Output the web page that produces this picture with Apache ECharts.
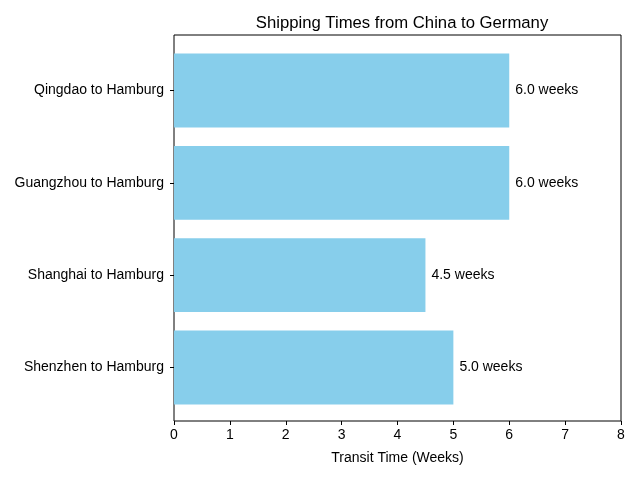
<!DOCTYPE html>
<html>
<head>
<meta charset="utf-8">
<script src="https://cdn.jsdelivr.net/npm/echarts@6/dist/echarts.min.js"></script>
<style>html,body{margin:0;padding:0;background:#fff}#c{width:640px;height:480px}</style>
</head>
<body>
<div id="c"></div>
<script>
const routes = ['Shenzhen to Hamburg', 'Shanghai to Hamburg', 'Guangzhou to Hamburg', 'Qingdao to Hamburg'];
const weeks = [5.0, 4.5, 6.0, 6.0];
const xTicks = [0, 1, 2, 3, 4, 5, 6, 7, 8];

const font = 'Liberation Sans, Arial, sans-serif';
const chart = echarts.init(document.getElementById('c'), null, {renderer: 'canvas'});
chart.setOption({
  animation: false,
  backgroundColor: '#fff',
  title: {
    text: 'Shipping Times from China to Germany',
    left: 397, top: 10, textAlign: 'center',
    textStyle: {fontFamily: font, fontSize: 16.7, fontWeight: 'normal', color: '#000'}
  },
  grid: [
    {left: 174, right: 19, top: 44.3, bottom: 66.3},
    {left: 174, right: 19, top: 35, bottom: 59, show: true, borderColor: '#000', borderWidth: 1, backgroundColor: 'transparent'}
  ],
  xAxis: [
    {gridIndex: 0, type: 'value', min: xTicks[0], max: xTicks[xTicks.length - 1], show: false},
    {gridIndex: 1, type: 'value', min: xTicks[0], max: xTicks[xTicks.length - 1], interval: 1,
     name: 'Transit Time (Weeks)', nameLocation: 'middle', nameGap: 30,
     nameTextStyle: {fontFamily: font, fontSize: 14, color: '#000'},
     axisLine: {show: false}, splitLine: {show: false},
     axisTick: {show: true, length: 4, lineStyle: {color: '#000'}},
     axisLabel: {fontFamily: font, fontSize: 14, color: '#000', margin: 7}}
  ],
  yAxis: [
    {gridIndex: 0, type: 'category', data: routes,
     axisLine: {show: false},
     axisTick: {show: true, alignWithLabel: true, length: 4, lineStyle: {color: '#000'}},
     axisLabel: {fontFamily: font, fontSize: 14, color: '#000', margin: 10}},
    {gridIndex: 1, type: 'value', show: false, min: 0, max: 1}
  ],
  series: [{
    type: 'bar', xAxisIndex: 0, yAxisIndex: 0,
    data: weeks, barCategoryGap: '20%',
    itemStyle: {color: '#87CEEB'},
    label: {show: true, position: 'right', distance: 6, fontFamily: font, fontSize: 14, color: '#000',
      formatter: p => p.value.toFixed(1) + ' weeks'}
  }]
});
</script>
</body>
</html>
